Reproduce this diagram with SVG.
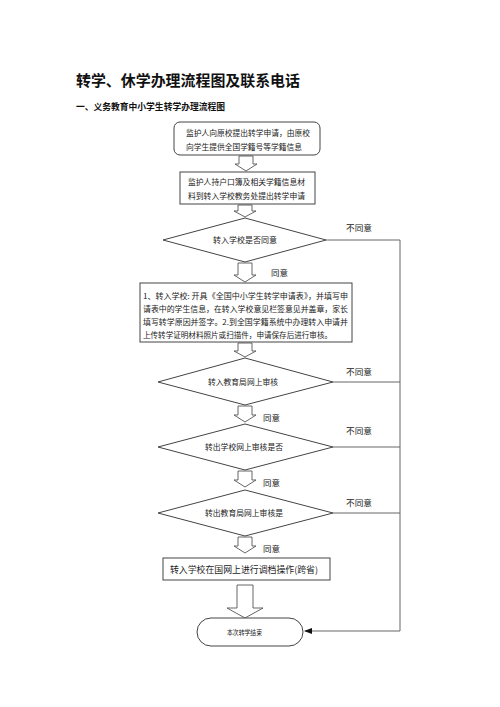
<svg xmlns="http://www.w3.org/2000/svg" width="500" height="707" viewBox="0 0 500 707">
<style>
text{font-family:"Noto Sans CJK SC","Liberation Sans",sans-serif;fill:#222}
.t{font-size:15px;font-weight:bold;fill:#111}
.s{font-size:8.8px;font-weight:bold;fill:#111}
.b{font-size:7.8px}
.lb{font-size:8.5px}
.shape{fill:#fff;stroke:#444;stroke-width:1}
.arr{fill:#fff;stroke:#555;stroke-width:0.9}
.con{fill:none;stroke:#666;stroke-width:1}
</style>
<defs>
<marker id="ah" markerWidth="8" markerHeight="6" refX="7" refY="3" orient="auto" markerUnits="userSpaceOnUse">
<path d="M0,0 L8,3 L0,6 Z" fill="#111"/>
</marker>
</defs>
<rect width="500" height="707" fill="#fff"/>
<text class="t" x="76" y="86" textLength="224" lengthAdjust="spacingAndGlyphs">转学、休学办理流程图及联系电话</text>
<text class="s" x="76" y="110" textLength="149" lengthAdjust="spacingAndGlyphs">一、义务教育中小学生转学办理流程图</text>

<g id="connectors">
<path class="con" d="M326,240 H400 V631 H305" marker-end="url(#ah)"/>
<path class="con" d="M333,382 H400"/>
<path class="con" d="M333,447 H400"/>
<path class="con" d="M333,513 H400"/>
<path class="arr" d="M239,156 H253 V164 H257 L246,171 L235,164 H239 Z"/>
<path class="arr" d="M238,205 H252 V211 H256 L245,217 L234,211 H238 Z"/>
<path class="arr" d="M238,263 H252 V275 H256 L245,282 L234,275 H238 Z"/>
<path class="arr" d="M238,343 H252 V351 H256 L245,357 L234,351 H238 Z"/>
<path class="arr" d="M238,406 H252 V415 H256 L245,422 L234,415 H238 Z"/>
<path class="arr" d="M238,471 H252 V480 H256 L245,487 L234,480 H238 Z"/>
<path class="arr" d="M238,537 H252 V546 H256 L245,553 L234,546 H238 Z"/>
<path class="arr" d="M237,585 H253 V608 H263 L245,618 L227,608 H237 Z"/>
<text class="lb" x="346" y="231" textLength="26" lengthAdjust="spacingAndGlyphs">不同意</text>
<text class="lb" x="346" y="375" textLength="26" lengthAdjust="spacingAndGlyphs">不同意</text>
<text class="lb" x="346" y="434" textLength="26" lengthAdjust="spacingAndGlyphs">不同意</text>
<text class="lb" x="346" y="506" textLength="26" lengthAdjust="spacingAndGlyphs">不同意</text>
<text class="lb" x="271" y="276" textLength="17" lengthAdjust="spacingAndGlyphs">同意</text>
<text class="lb" x="263" y="421" textLength="17" lengthAdjust="spacingAndGlyphs">同意</text>
<text class="lb" x="263" y="486" textLength="17" lengthAdjust="spacingAndGlyphs">同意</text>
<text class="lb" x="263" y="552" textLength="17" lengthAdjust="spacingAndGlyphs">同意</text>
</g>

<g id="n1">
<rect class="shape" x="174" y="122" width="146" height="33" rx="6"/>
<text class="b" x="186" y="136" textLength="124" lengthAdjust="spacingAndGlyphs">监护人向原校提出转学申请，由原校</text>
<text class="b" x="186" y="150" textLength="116" lengthAdjust="spacingAndGlyphs">向学生提供全国学籍号等学籍信息</text>
</g>
<g id="n2">
<rect class="shape" x="180" y="172" width="135" height="32"/>
<text class="b" x="188" y="185" textLength="117" lengthAdjust="spacingAndGlyphs">监护人持户口簿及相关学籍信息材</text>
<text class="b" x="188" y="199" textLength="117" lengthAdjust="spacingAndGlyphs">料到转入学校教务处提出转学申请</text>
</g>
<g id="n3">
<polygon class="shape" points="245,218 326,240 245,262 163,240"/>
<text class="b" x="213" y="243" textLength="64" lengthAdjust="spacingAndGlyphs">转入学校是否同意</text>
</g>
<g id="n4">
<rect class="shape" x="140" y="283" width="212" height="59"/>
<text class="b" x="143" y="299" textLength="205" lengthAdjust="spacingAndGlyphs">1、转入学校:   开具《全国中小学生转学申请表》，并填写申</text>
<text class="b" x="143" y="312" textLength="205" lengthAdjust="spacingAndGlyphs">请表中的学生信息，在转入学校意见栏签意见并盖章，家长</text>
<text class="b" x="143" y="325" textLength="205" lengthAdjust="spacingAndGlyphs">填写转学原因并签字。2.到全国学籍系统中办理转入申请并</text>
<text class="b" x="143" y="338" textLength="189" lengthAdjust="spacingAndGlyphs">上传转学证明材料照片或扫描件，申请保存后进行审核。</text>
</g>
<g id="n5">
<polygon class="shape" points="245,358 333,382 245,405 158,382"/>
<text class="b" x="208" y="385" textLength="70" lengthAdjust="spacingAndGlyphs">转入教育局网上审核</text>
</g>
<g id="n6">
<polygon class="shape" points="245,424 333,447 245,470 158,447"/>
<text class="b" x="205" y="450" textLength="78" lengthAdjust="spacingAndGlyphs">转出学校网上审核是否</text>
</g>
<g id="n7">
<polygon class="shape" points="245,490 333,513 245,536 158,513"/>
<text class="b" x="205" y="516" textLength="78" lengthAdjust="spacingAndGlyphs">转出教育局网上审核是</text>
</g>
<g id="n8">
<rect class="shape" x="163" y="558" width="167" height="22"/>
<text x="170" y="573" style="font-size:9px" textLength="148" lengthAdjust="spacingAndGlyphs">转入学校在国网上进行调档操作(跨省)</text>
</g>
<g id="n9">
<rect class="shape" x="197" y="618" width="106" height="28" rx="14"/>
<text x="227" y="634.5" style="font-size:6.5px" textLength="35" lengthAdjust="spacingAndGlyphs">本次转学结束</text>
</g>
</svg>
